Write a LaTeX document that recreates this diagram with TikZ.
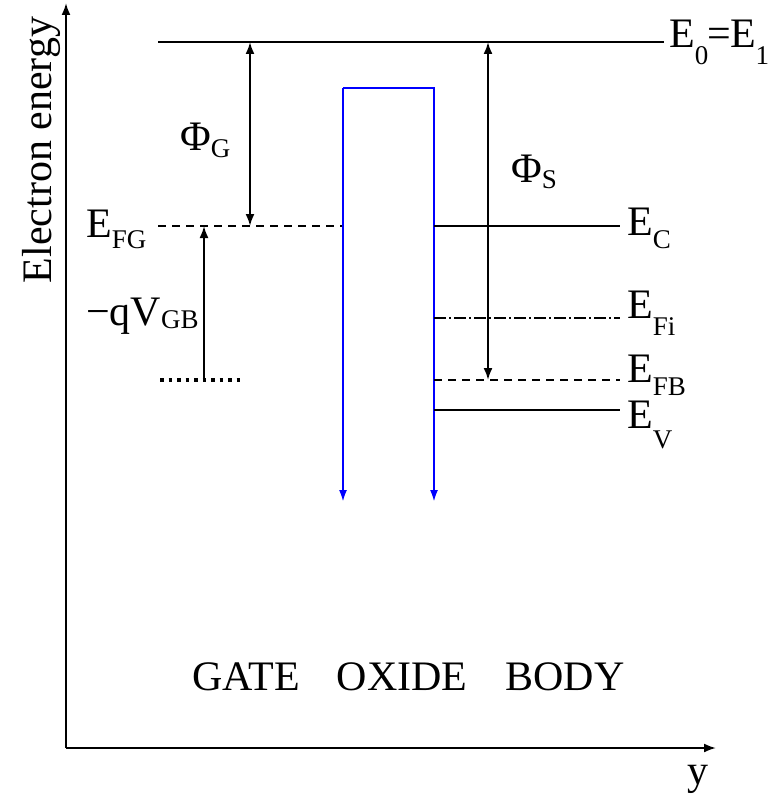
\documentclass[tikz,border=0pt]{standalone}
\usepackage{fontspec}
\setmainfont{Liberation Serif}
\usetikzlibrary{arrows.meta}
\newcommand\subx[3]{\kern#1pt\raisebox{-#2pt}{\fontsize{27}{27}\selectfont #3}}
\tikzset{
  lab/.style={inner sep=0pt, anchor=base west, font=\fontsize{42}{48}\selectfont},
  ln/.style={line width=2pt},
  tip/.style={-{Latex[length=12pt,width=9pt]}},
  dtip/.style={{Latex[length=12pt,width=9pt]}-{Latex[length=12pt,width=9pt]}},
  band/.style={line width=2pt, black},
  blueln/.style={line width=2.2pt, blue},
}
\begin{document}
\begin{tikzpicture}[x=1pt,y=-1pt]
\useasboundingbox (0,0) rectangle (775,797);
% axes
\coordinate (O) at (66,748);
\coordinate (Ytop) at (66,3);
\coordinate (Xend) at (716,748);
\draw[ln,tip] (O) -- (Ytop);
\draw[ln,tip] (O) -- (Xend);
\node[lab, rotate=90, anchor=base] (elab) at (51,150) {Electron energy};
\node[lab] (ylab) at (687,784) {y};
% vacuum level
\coordinate (E0a) at (158,42);
\coordinate (E0b) at (664,42);
\draw[band] (E0a) -- (E0b);
\node[lab] (E0lab) at (669,48) {E\subx{0}{17}{0}\kern-1pt=\kern-1ptE\subx{0}{17}{1}};
% gate Fermi level
\coordinate (EFGa) at (158,226);
\coordinate (EFGb) at (343,226);
\draw[band, dash pattern=on 8pt off 6pt] (EFGa) -- (EFGb);
\node[lab] (EFGlab) at (86,237) {E\subx{0}{11}{FG}};
% dotted level
\coordinate (Da) at (160,380);
\coordinate (Db) at (244,380);
\draw[line width=3.5pt, dash pattern=on 3.5pt off 5pt] (Da) -- (Db);
% Phi_G arrow
\coordinate (PGa) at (250,42);
\coordinate (PGb) at (250,226);
\draw[ln,dtip] (PGa) -- (PGb);
\node[lab] (PGlab) at (180,150) {Φ\subx{0}{7}{G}};
% -qV_GB arrow
\coordinate (Va) at (204,380);
\coordinate (Vb) at (204,226);
\draw[ln,tip] (Va) -- (Vb);
\node[lab] (Vlab) at (86,325) {−qV\subx{0}{3}{GB}};
% oxide barrier
\coordinate (Bl) at (343,502);
\coordinate (Btl) at (343,88);
\coordinate (Btr) at (434,88);
\coordinate (Br) at (434,502);
\draw[blueln, -{Latex[length=12pt,width=8pt]}] (Btl) -- (Bl);
\draw[blueln, -{Latex[length=12pt,width=8pt]}] (Btl) -- (Btr) -- (Br);
% body bands
\coordinate (ECa) at (434,226);
\coordinate (ECb) at (620,226);
\draw[band] (ECa) -- (ECb);
\node[lab] (EClab) at (627,235) {E\subx{0}{13}{C}};
\coordinate (EFia) at (434,318);
\coordinate (EFib) at (620,318);
\draw[band, line width=1.6pt, dash pattern=on 12pt off 3pt on 2pt off 3pt] (EFia) -- (EFib);
\node[lab] (EFilab) at (627,318) {E\subx{0}{17}{Fi}};
\coordinate (EFBa) at (434,380);
\coordinate (EFBb) at (620,380);
\draw[band, dash pattern=on 8pt off 6pt] (EFBa) -- (EFBb);
\node[lab] (EFBlab) at (627,382) {E\subx{0}{13}{FB}};
\coordinate (EVa) at (434,410);
\coordinate (EVb) at (620,410);
\draw[band] (EVa) -- (EVb);
\node[lab] (EVlab) at (627,428) {E\subx{0}{20}{V}};
% Phi_S arrow
\coordinate (PSa) at (488,42);
\coordinate (PSb) at (488,380);
\draw[ln,dtip] (PSa) -- (PSb);
\node[lab] (PSlab) at (511,182) {Φ\subx{0}{6}{S}};
% region labels
\node[lab, anchor=base] (gate) at (246,690) {GATE};
\node[lab, anchor=base] (oxide) at (402,690) {OXIDE};
\node[lab, anchor=base] (body) at (565,690) {BODY};
\end{tikzpicture}
\end{document}
